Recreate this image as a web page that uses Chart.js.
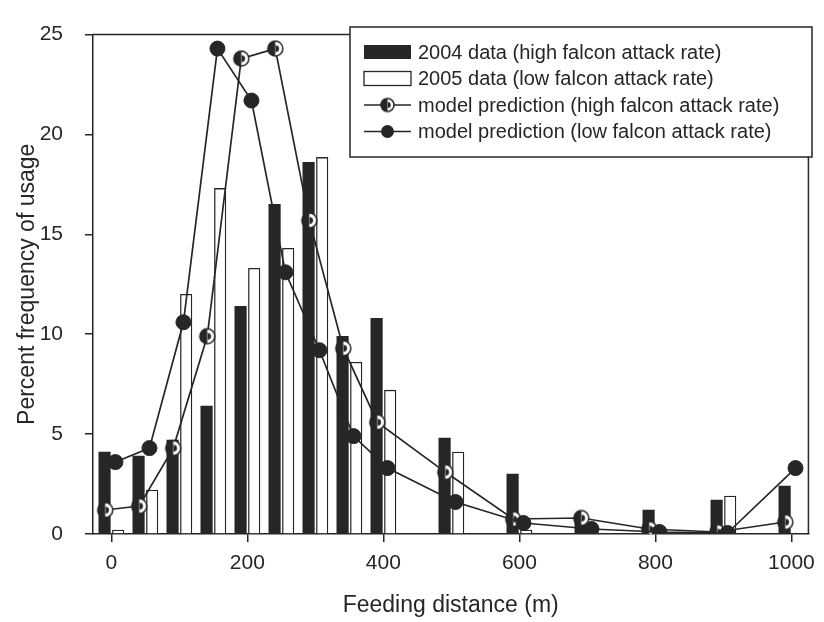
<!DOCTYPE html>
<html>
<head>
<meta charset="utf-8">
<script src="https://cdn.jsdelivr.net/npm/chart.js@4.4.1/dist/chart.umd.min.js"></script>
<style>
    html, body { margin: 0; padding: 0; background: #fff; }
    #wrap { width: 824px; height: 622px; }
</style>
</head>
<body>
<div id="wrap"><canvas id="feedingChart" width="824" height="622"></canvas></div>
<script>
// distance bins (m) and percent usage per bin
const distances = [0, 50, 100, 150, 200, 250, 300, 350, 400, 500, 600, 700, 800, 900, 1000];
const usage2004 = [4.1, 3.9, 4.7, 6.4, 11.4, 16.5, 18.6, 9.9, 10.8, 4.8, 3.0, 0.8, 1.2, 1.7, 2.4];
const usage2005 = [0.2, 2.2, 12.0, 17.3, 13.3, 14.3, 18.85, 8.6, 7.2, 4.1, 0.2, null, null, 1.9, null];
const modelHigh = [1.2, 1.4, 4.3, 9.9, 23.8, 24.3, 15.7, 9.3, 5.6, 3.1, 0.75, 0.8, 0.25, 0.1, 0.6];
const modelLow = [3.6, 4.3, 10.6, 24.3, 21.7, 13.1, 9.2, 4.9, 3.3, 1.6, 0.55, 0.25, 0.1, 0.05, 3.3];
const xTicks = [0, 200, 400, 600, 800, 1000];
const yTicks = [0, 5, 10, 15, 20, 25];

const seriesLabels = [
    '2004 data (high falcon attack rate)',
    '2005 data (low falcon attack rate)',
    'model prediction (high falcon attack rate)',
    'model prediction (low falcon attack rate)'
];

const INK = '#262626';
const FONT = "'Liberation Sans', Arial, sans-serif";
const tickFont = { family: FONT, size: 21 };
const titleFont = { family: FONT, size: 23 };

// half filled circle marker for the high attack rate model
function halfCircle(r) {
    const c = document.createElement('canvas');
    const s = Math.ceil(r * 2 + 4);
    c.width = s;
    c.height = s;
    const g = c.getContext('2d');
    const m = s / 2;
    g.fillStyle = '#fff';
    g.beginPath();
    g.arc(m, m, r, 0, Math.PI * 2);
    g.fill();
    g.fillStyle = INK;
    g.beginPath();
    g.arc(m, m, r, Math.PI * 0.5, Math.PI * 1.5);
    g.closePath();
    g.fill();
    g.beginPath();
    g.arc(m + r * 0.05, m, r * 0.45, -Math.PI * 0.5, Math.PI * 0.5);
    g.fill();
    g.strokeStyle = INK;
    g.lineWidth = 1.5;
    g.beginPath();
    g.arc(m, m, r, 0, Math.PI * 2);
    g.stroke();
    return c;
}

const highMarker = halfCircle(7.5);
const highMarkerSmall = halfCircle(6.5);

function points(values, shift) {
    const out = [];
    values.forEach((v, i) => {
        if (v !== null) out.push({ x: distances[i] + shift, y: v });
    });
    return out;
}

// frame on top and right side of the plot
const framePlugin = {
    id: 'frame',
    beforeDatasetsDraw(chart) {
        const { ctx, chartArea: a } = chart;
        ctx.save();
        ctx.strokeStyle = INK;
        ctx.lineWidth = 1.5;
        ctx.beginPath();
        ctx.moveTo(a.left, a.top);
        ctx.lineTo(a.right, a.top);
        ctx.lineTo(a.right, a.bottom);
        ctx.stroke();
        ctx.restore();
    }
};

// boxed legend inside the plot, upper right
const boxLegend = {
    id: 'boxLegend',
    afterDraw(chart) {
        const { ctx } = chart;
        const left = 350, top = 27, right = 812, bottom = 157;
        ctx.save();
        ctx.fillStyle = '#fff';
        ctx.fillRect(left, top, right - left, bottom - top);
        ctx.strokeStyle = INK;
        ctx.lineWidth = 1.5;
        ctx.strokeRect(left, top, right - left, bottom - top);
        ctx.font = "20px " + FONT;
        ctx.textBaseline = 'middle';
        ctx.textAlign = 'left';
        const sx0 = 364, sx1 = 411, tx = 418;
        seriesLabels.forEach((label, i) => {
            const y = 52 + i * 26.5;
            if (i === 0) {
                ctx.fillStyle = INK;
                ctx.fillRect(sx0, y - 7, sx1 - sx0, 14);
            } else if (i === 1) {
                ctx.strokeStyle = INK;
                ctx.lineWidth = 1.3;
                ctx.strokeRect(sx0, y - 7, sx1 - sx0, 14);
            } else {
                ctx.strokeStyle = INK;
                ctx.lineWidth = 1.6;
                ctx.beginPath();
                ctx.moveTo(sx0, y);
                ctx.lineTo(sx1, y);
                ctx.stroke();
                const cx = (sx0 + sx1) / 2;
                if (i === 2) {
                    ctx.drawImage(highMarkerSmall, cx - highMarkerSmall.width / 2, y - highMarkerSmall.height / 2);
                } else {
                    ctx.fillStyle = INK;
                    ctx.beginPath();
                    ctx.arc(cx, y, 6.5, 0, Math.PI * 2);
                    ctx.fill();
                }
            }
            ctx.fillStyle = INK;
            ctx.fillText(label, tx, y + 1);
        });
        ctx.restore();
    }
};

const ctx = document.getElementById('feedingChart').getContext('2d');
const feedingChart = new Chart(ctx, {
    type: 'bar',
    data: {
        datasets: [
            {
                type: 'line',
                label: seriesLabels[3],
                data: points(modelLow, 6),
                borderColor: INK,
                borderWidth: 1.7,
                pointStyle: 'circle',
                pointRadius: 7.5,
                pointBackgroundColor: INK,
                pointBorderColor: INK,
                pointBorderWidth: 1,
                tension: 0,
                order: 0
            },
            {
                type: 'line',
                label: seriesLabels[2],
                data: points(modelHigh, -9),
                borderColor: INK,
                borderWidth: 1.7,
                pointStyle: highMarker,
                pointRadius: 7.5,
                tension: 0,
                order: 1
            },
            {
                label: seriesLabels[0],
                data: points(usage2004, -10),
                backgroundColor: INK,
                borderWidth: 0,
                barThickness: 11.5,
                grouped: false,
                order: 2
            },
            {
                label: seriesLabels[1],
                data: points(usage2005, 10),
                backgroundColor: '#fff',
                borderColor: INK,
                borderWidth: 1.3,
                barThickness: 11.5,
                grouped: false,
                order: 3
            }
        ]
    },
    options: {
        responsive: false,
        animation: false,
        layout: { padding: { top: 15, right: 9, left: 0, bottom: 0 } },
        plugins: {
            legend: { display: false },
            tooltip: { enabled: false }
        },
        scales: {
            x: {
                type: 'linear',
                offset: false,
                min: -27,
                max: 1025,
                afterBuildTicks: scale => { scale.ticks = xTicks.map(v => ({ value: v })); },
                afterFit: scale => { scale.height = 88; },
                grid: { display: true, offset: false, drawOnChartArea: false, drawTicks: true, tickLength: 8, color: INK, lineWidth: 1.5 },
                border: { display: true, color: INK, width: 1.5 },
                ticks: { color: INK, font: tickFont, padding: 9, maxRotation: 0, autoSkip: false, callback: v => String(v) },
                title: { display: true, text: 'Feeding distance (m)', color: INK, font: titleFont, padding: { top: 0, bottom: 3 } }
            },
            y: {
                min: 0,
                max: 25,
                afterBuildTicks: scale => { scale.ticks = yTicks.map(v => ({ value: v })); },
                afterFit: scale => { scale.width = 93; },
                grid: { display: true, drawOnChartArea: false, drawTicks: true, tickLength: 8, color: INK, lineWidth: 1.5 },
                border: { display: true, color: INK, width: 1.5 },
                ticks: { color: INK, font: tickFont, padding: 22, autoSkip: false, callback: v => String(v) },
                title: { display: true, text: 'Percent frequency of usage', color: INK, font: titleFont, padding: { top: 14, bottom: 0 } }
            }
        }
    },
    plugins: [framePlugin, boxLegend]
});
</script>
</body>
</html>
